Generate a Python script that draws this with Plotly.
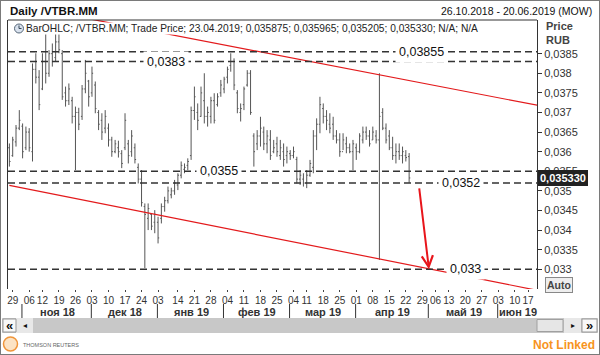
import pandas as pd
import numpy as np
import plotly.graph_objects as go

W, H = 600, 355
FONT = "Liberation Sans, Arial, sans-serif"

# ---------------- data ----------------
START, END = "2018-10-26", "2019-06-20"
HOLIDAYS = ["2018-11-05", "2018-12-31", "2019-01-01", "2019-01-02", "2019-01-07",
            "2019-03-08", "2019-05-01", "2019-05-09", "2019-06-12"]

OPEN = [0.03610, 0.03590, 0.03625, 0.03660, 0.03665, 0.03610, 0.03650, 0.03600, 0.03810, 0.03790,
        0.03760, 0.03830, 0.03800, 0.03850, 0.03840, 0.03880, 0.03850, 0.03750, 0.03730, 0.03730,
        0.03690, 0.03700, 0.03690, 0.03760, 0.03780, 0.03750, 0.03770, 0.03700, 0.03680, 0.03660,
        0.03660, 0.03630, 0.03600, 0.03610, 0.03595, 0.03610, 0.03620, 0.03600, 0.03610, 0.03560,
        0.03530, 0.03460, 0.03430, 0.03440, 0.03420, 0.03420, 0.03430, 0.03460, 0.03475, 0.03490,
        0.03500, 0.03515, 0.03540, 0.03555, 0.03565, 0.03590, 0.03705, 0.03700, 0.03690, 0.03730,
        0.03690, 0.03690, 0.03730, 0.03720, 0.03750, 0.03760, 0.03790, 0.03820, 0.03830, 0.03750,
        0.03700, 0.03720, 0.03770, 0.03800, 0.03640, 0.03620, 0.03640, 0.03650, 0.03620, 0.03630,
        0.03600, 0.03620, 0.03590, 0.03600, 0.03590, 0.03595, 0.03590, 0.03580, 0.03530, 0.03530,
        0.03520, 0.03540, 0.03560, 0.03640, 0.03670, 0.03710, 0.03690, 0.03670, 0.03670, 0.03640,
        0.03630, 0.03600, 0.03620, 0.03610, 0.03600, 0.03610, 0.03600, 0.03630, 0.03650, 0.03640,
        0.03630, 0.03640, 0.03630, 0.03700, 0.03660, 0.03640, 0.03610, 0.03590, 0.03600, 0.03590,
        0.03590, 0.035875]
HIGH = [0.03621, 0.03638, 0.03668, 0.03706, 0.03672, 0.03664, 0.03660, 0.03825, 0.03851, 0.03808,
        0.03851, 0.03902, 0.03859, 0.03876, 0.03902, 0.03900, 0.03859, 0.03766, 0.03774, 0.03740,
        0.03715, 0.03712, 0.03770, 0.03834, 0.03783, 0.03817, 0.03779, 0.03706, 0.03698, 0.03706,
        0.03672, 0.03638, 0.03630, 0.03628, 0.03604, 0.03698, 0.03630, 0.03655, 0.03621, 0.03570,
        0.03553, 0.03468, 0.03468, 0.03443, 0.03451, 0.03434, 0.03468, 0.03485, 0.03511, 0.03508,
        0.03528, 0.03545, 0.03575, 0.03570, 0.03583, 0.03715, 0.03766, 0.03723, 0.03766, 0.03800,
        0.03715, 0.03740, 0.03749, 0.03749, 0.03783, 0.03791, 0.03817, 0.03851, 0.03838, 0.03757,
        0.03723, 0.03766, 0.03808, 0.03808, 0.03647, 0.03655, 0.03689, 0.03664, 0.03655, 0.03655,
        0.03630, 0.03638, 0.03630, 0.03621, 0.03613, 0.03604, 0.03613, 0.03587, 0.03553, 0.03545,
        0.03553, 0.03579, 0.03655, 0.03685, 0.03740, 0.03723, 0.03706, 0.03698, 0.03689, 0.03655,
        0.03647, 0.03647, 0.03638, 0.03621, 0.03630, 0.03621, 0.03647, 0.03664, 0.03664, 0.03655,
        0.03664, 0.03655, 0.03800, 0.03711, 0.03672, 0.03655, 0.03638, 0.03621, 0.03621, 0.03613,
        0.03604, 0.035965]
LOW = [0.03562, 0.03587, 0.03613, 0.03655, 0.03583, 0.03604, 0.03600, 0.03575, 0.03774, 0.03706,
       0.03757, 0.03774, 0.03791, 0.03817, 0.03830, 0.03851, 0.03732, 0.03715, 0.03719, 0.03672,
       0.03553, 0.03655, 0.03681, 0.03749, 0.03715, 0.03740, 0.03698, 0.03655, 0.03630, 0.03647,
       0.03613, 0.03587, 0.03596, 0.03585, 0.03558, 0.03604, 0.03570, 0.03587, 0.03570, 0.03519,
       0.03460, 0.03303, 0.03400, 0.03400, 0.03392, 0.03366, 0.03417, 0.03447, 0.03468, 0.03481,
       0.03490, 0.03502, 0.03532, 0.03545, 0.03553, 0.03579, 0.03681, 0.03655, 0.03689, 0.03672,
       0.03664, 0.03672, 0.03672, 0.03715, 0.03740, 0.03749, 0.03774, 0.03804, 0.03757, 0.03698,
       0.03677, 0.03706, 0.03766, 0.03694, 0.03562, 0.03604, 0.03613, 0.03604, 0.03596, 0.03579,
       0.03596, 0.03587, 0.03579, 0.03562, 0.03570, 0.03579, 0.03583, 0.03519, 0.03515, 0.03511,
       0.03507, 0.03536, 0.03545, 0.03604, 0.03647, 0.03672, 0.03655, 0.03647, 0.03630, 0.03621,
       0.03587, 0.03604, 0.03596, 0.03596, 0.03553, 0.03579, 0.03596, 0.03621, 0.03630, 0.03613,
       0.03630, 0.03621, 0.03324, 0.03655, 0.03621, 0.03604, 0.03579, 0.03570, 0.03579, 0.03570,
       0.03575, 0.035205]
CLOSE = [0.03575, 0.03630, 0.03660, 0.03680, 0.03600, 0.03650, 0.03610, 0.03810, 0.03790, 0.03720,
         0.03830, 0.03800, 0.03850, 0.03830, 0.03880, 0.03860, 0.03740, 0.03730, 0.03760, 0.03690,
         0.03700, 0.03670, 0.03760, 0.03800, 0.03740, 0.03800, 0.03710, 0.03670, 0.03650, 0.03690,
         0.03630, 0.03600, 0.03620, 0.03600, 0.03570, 0.03680, 0.03590, 0.03640, 0.03580, 0.03530,
         0.03470, 0.03440, 0.03455, 0.03410, 0.03440, 0.03380, 0.03460, 0.03475, 0.03500, 0.03500,
         0.03520, 0.03540, 0.03565, 0.03560, 0.03575, 0.03705, 0.03740, 0.03680, 0.03750, 0.03690,
         0.03700, 0.03730, 0.03680, 0.03740, 0.03770, 0.03785, 0.03810, 0.03830, 0.03770, 0.03710,
         0.03710, 0.03760, 0.03800, 0.03700, 0.03600, 0.03640, 0.03660, 0.03620, 0.03640, 0.03590,
         0.03610, 0.03600, 0.03610, 0.03580, 0.03600, 0.03590, 0.03600, 0.03530, 0.03540, 0.03520,
         0.03540, 0.03570, 0.03640, 0.03670, 0.03720, 0.03690, 0.03680, 0.03660, 0.03640, 0.03630,
         0.03600, 0.03630, 0.03610, 0.03600, 0.03620, 0.03600, 0.03640, 0.03650, 0.03640, 0.03620,
         0.03650, 0.03630, 0.03690, 0.03660, 0.03630, 0.03610, 0.03590, 0.03600, 0.03590, 0.03600,
         0.03585, 0.035330]

Y_TICKS = [0.033, 0.0335, 0.034, 0.0345, 0.035, 0.0355, 0.036, 0.0365, 0.037, 0.0375, 0.038, 0.0385]
Y_TICK_TEXT = ["0,033", "0,0335", "0,034", "0,0345", "0,035", "0,0355", "0,036", "0,0365",
               "0,037", "0,0375", "0,038", "0,0385"]

X_TICK_DATES = ["2018-10-29", "2018-11-06", "2018-11-12", "2018-11-19", "2018-11-26", "2018-12-03",
                "2018-12-10", "2018-12-17", "2018-12-24", "2019-01-03", "2019-01-14", "2019-01-21",
                "2019-01-28", "2019-02-04", "2019-02-11", "2019-02-18", "2019-02-25", "2019-03-04",
                "2019-03-11", "2019-03-18", "2019-03-25", "2019-04-01", "2019-04-08", "2019-04-15",
                "2019-04-22", "2019-04-29", "2019-05-06", "2019-05-13", "2019-05-20", "2019-05-27",
                "2019-06-03", "2019-06-10", "2019-06-17"]
X_TICK_TEXT = ["29", "06", "12", "19", "26", "03", "10", "17", "24", "03", "14", "21", "28", "04",
               "11", "18", "25", "04", "11", "18", "25", "01", "08", "15", "22", "29", "06", "13",
               "20", "27", "03", "10", "17"]

MONTH_KEYS = ["2018-11", "2018-12", "2019-01", "2019-02", "2019-03", "2019-04", "2019-05", "2019-06"]
MONTH_TEXT = ["ноя 18", "дек 18", "янв 19", "фев 19", "мар 19", "апр 19", "май 19", "июн 19"]

LEVELS = [0.03855, 0.0383, 0.0355, 0.0352, 0.033]
LEVEL_TEXT = ["0,03855", "0,0383", "0,0355", "0,0352", "0,033"]

CHANNEL_DATES = ["2018-10-26", "2019-06-20"]
CHANNEL_UPPER = [0.03978, 0.03718]
CHANNEL_LOWER = [0.03514, 0.03246]

ARROW_DATES = ["2019-04-26", "2019-05-02"]
ARROW_PRICES = [0.03510, 0.03300]

LAST_PRICE = 0.035330

# ---------------- layout helpers ----------------
LEVEL_LABEL_X = [421, 166, 219, 461, 466]   # label centres in pixels


def px(x):
    return x / W


def py(y):
    return 1 - y / H


cal = pd.bdate_range(START, END)
cal = cal[~cal.isin(pd.to_datetime(HOLIDAYS))]
pos = {d: i for i, d in enumerate(cal)}


def idx(d):
    return pos[pd.Timestamp(d)]


XR = [-0.42, 159.7]
YR = [0.0324975, 0.0393585]
XD = [px(8), px(537)]
YD = [py(289), py(20)]

n = len(OPEN)
xs = list(range(n))

fig = go.Figure()
fig.add_trace(go.Ohlc(
    x=xs, open=OPEN, high=HIGH, low=LOW, close=CLOSE,
    increasing=dict(line=dict(color="#555555", width=1)),
    decreasing=dict(line=dict(color="#555555", width=1)),
    tickwidth=0.35, hoverinfo="skip", showlegend=False))

cx = [idx(d) for d in CHANNEL_DATES]
for vals in (CHANNEL_UPPER, CHANNEL_LOWER):
    fig.add_trace(go.Scatter(x=cx, y=vals, mode="lines",
                             line=dict(color="#e31a1c", width=1.2),
                             hoverinfo="skip", showlegend=False))

shapes = []
annotations = []

# level lines + labels
for lv, txt, lx in zip(LEVELS, LEVEL_TEXT, LEVEL_LABEL_X):
    shapes.append(dict(type="line", xref="paper", yref="y", x0=XD[0], x1=XD[1], y0=lv, y1=lv,
                       line=dict(color="#333333", width=1.4, dash="7px,4px")))
    annotations.append(dict(xref="paper", yref="y", x=px(lx), y=lv, text=txt, showarrow=False,
                            xanchor="center", yanchor="middle", bgcolor="white", borderpad=3,
                            font=dict(family=FONT, size=12.5, color="#111111")))

# arrow
annotations.append(dict(xref="x", yref="y", axref="x", ayref="y",
                        x=idx(ARROW_DATES[1]), y=ARROW_PRICES[1],
                        ax=idx(ARROW_DATES[0]), ay=ARROW_PRICES[0],
                        text="", showarrow=True, arrowhead=5, arrowsize=1.1, arrowwidth=2,
                        arrowcolor="#e8151b", standoff=0, startstandoff=0))

# frame top line
shapes.append(dict(type="line", xref="paper", yref="paper", x0=XD[0], x1=XD[1],
                   y0=YD[1], y1=YD[1], line=dict(color="#333333", width=1)))

# legend line (info)
last_date = cal[n - 1].strftime("%d.%m.%Y")
fmt = lambda v: f"{v:.6f}".replace(".", ",")
info = "BarOHLC; /VTBR.MM; Trade Price; {}; {}; {}; {}; {}; N/A; N/A".format(
    last_date, fmt(OPEN[-1]), fmt(HIGH[-1]), fmt(LOW[-1]), fmt(CLOSE[-1]))
annotations.append(dict(xref="paper", yref="paper", x=px(25), y=py(28.5), text=info,
                        showarrow=False, xanchor="left", yanchor="middle", bgcolor="white",
                        borderpad=0, font=dict(family=FONT, size=10.2, color="#222222")))
shapes.append(dict(type="circle", xref="paper", yref="paper", x0=px(14.5), x1=px(23.5),
                   y0=py(33), y1=py(24), fillcolor="#d9e2ee", line=dict(color="#556677", width=1)))
shapes.append(dict(type="line", xref="paper", yref="paper", x0=px(19), x1=px(19),
                   y0=py(28.5), y1=py(25.5), line=dict(color="#334455", width=1)))
shapes.append(dict(type="line", xref="paper", yref="paper", x0=px(19), x1=px(21.5),
                   y0=py(28.5), y1=py(28.5), line=dict(color="#334455", width=1)))

# header
annotations.append(dict(xref="paper", yref="paper", x=px(8), y=py(11), text="<b>Daily /VTBR.MM</b>",
                        showarrow=False, xanchor="left", yanchor="middle",
                        font=dict(family=FONT, size=11.5, color="#111111")))
d0 = pd.Timestamp(START).strftime("%d.%m.%Y")
d1 = pd.Timestamp(END).strftime("%d.%m.%Y")
annotations.append(dict(xref="paper", yref="paper", x=px(594), y=py(11),
                        text=f"{d0} - {d1} (MOW)", showarrow=False, xanchor="right",
                        yanchor="middle", font=dict(family=FONT, size=10.5, color="#111111")))

# axis title
annotations.append(dict(xref="paper", yref="paper", x=px(544), y=py(26), text="<b>Price</b>",
                        showarrow=False, xanchor="left", yanchor="middle",
                        font=dict(family=FONT, size=11, color="#444444")))
annotations.append(dict(xref="paper", yref="paper", x=px(544), y=py(40), text="<b>RUB</b>",
                        showarrow=False, xanchor="left", yanchor="middle",
                        font=dict(family=FONT, size=11, color="#444444")))

# current price badge
annotations.append(dict(xref="paper", yref="y", x=px(537.5), y=LAST_PRICE,
                        text=f"<b>{fmt(LAST_PRICE)}</b>", showarrow=False, xanchor="left",
                        yanchor="middle", bgcolor="#222222", bordercolor="#222222", borderpad=1,
                        font=dict(family=FONT, size=11, color="white")))

# Auto button
annotations.append(dict(xref="paper", yref="paper", x=px(545), y=py(284.5), text="<b>Auto</b>",
                        showarrow=False, xanchor="left", yanchor="middle", bgcolor="#eeeeee",
                        bordercolor="#888888", borderwidth=1, borderpad=1,
                        font=dict(family=FONT, size=10.5, color="#444444")))

# month row
firsts = []
for key in MONTH_KEYS:
    m = [i for i, d in enumerate(cal) if d.strftime("%Y-%m") == key]
    firsts.append(m[0])
for k, (f, txt) in enumerate(zip(firsts, MONTH_TEXT)):
    nxt = firsts[k + 1] if k + 1 < len(firsts) else XR[1]
    shapes.append(dict(type="line", xref="x", yref="paper", x0=f - 0.2, x1=f - 0.2,
                       y0=py(318), y1=py(304), line=dict(color="#333333", width=1)))
    annotations.append(dict(xref="x", yref="paper", x=(f + nxt) / 2, y=py(311.5),
                            text=f"<b>{txt}</b>", showarrow=False, xanchor="center",
                            yanchor="middle", font=dict(family=FONT, size=11, color="#333333")))

# scrollbar
shapes += [
    dict(type="rect", xref="paper", yref="paper", x0=px(2), x1=px(598), y0=py(333), y1=py(318),
         fillcolor="#c8c8c8", line=dict(width=0)),
    dict(type="rect", xref="paper", yref="paper", x0=px(16), x1=px(33), y0=py(333), y1=py(318),
         fillcolor="#e8e8e8", line=dict(width=0)),
    dict(type="rect", xref="paper", yref="paper", x0=px(3), x1=px(16), y0=py(332), y1=py(319),
         fillcolor="#f8f8f8", line=dict(color="#999999", width=1)),
    dict(type="rect", xref="paper", yref="paper", x0=px(537), x1=px(563), y0=py(331.5), y1=py(319.5),
         fillcolor="#e6e6e6", line=dict(color="#a0a0a0", width=1)),
    dict(type="rect", xref="paper", yref="paper", x0=px(564), x1=px(581), y0=py(333), y1=py(318),
         fillcolor="#e8e8e8", line=dict(width=0)),
    dict(type="rect", xref="paper", yref="paper", x0=px(582), x1=px(597), y0=py(332), y1=py(319),
         fillcolor="#f8f8f8", line=dict(color="#999999", width=1)),
]
for x, t, s in [(9.5, "<b>«</b>", 13), (24.5, "◂", 8), (572.5, "▸", 8), (589.5, "<b>»</b>", 13)]:
    annotations.append(dict(xref="paper", yref="paper", x=px(x), y=py(325.5), text=t,
                            showarrow=False, xanchor="center", yanchor="middle",
                            font=dict(family=FONT, size=s, color="#111111")))

# footer
shapes.append(dict(type="circle", xref="paper", yref="paper", x0=px(3.5), x1=px(17.5),
                   y0=py(351), y1=py(337), fillcolor="#fce3c4", line=dict(color="#f0953a", width=1.5)))
annotations.append(dict(xref="paper", yref="paper", x=px(21), y=py(344.5), text="THOMSON REUTERS",
                        showarrow=False, xanchor="left", yanchor="middle",
                        font=dict(family=FONT, size=5.5, color="#666666")))
annotations.append(dict(xref="paper", yref="paper", x=px(597), y=py(345), text="<b>Not Linked</b>",
                        showarrow=False, xanchor="right", yanchor="middle",
                        font=dict(family=FONT, size=12, color="#f7941d")))

# outer border
shapes.append(dict(type="rect", xref="paper", yref="paper", x0=0, x1=1, y0=0, y1=1,
                   line=dict(color="#7a7a7a", width=2), fillcolor="rgba(0,0,0,0)"))

fig.update_layout(
    width=W, height=H, margin=dict(l=0, r=0, t=0, b=0),
    paper_bgcolor="white", plot_bgcolor="white",
    showlegend=False, shapes=shapes, annotations=annotations,
    font=dict(family=FONT, size=11, color="#333333"),
    xaxis=dict(domain=XD, range=XR, tickvals=[idx(d) for d in X_TICK_DATES],
               ticktext=X_TICK_TEXT, tickangle=0, ticks="outside", ticklen=2,
               tickcolor="#444444", tickfont=dict(family=FONT, size=10, color="#333333"),
               showgrid=False, zeroline=False, showline=False,
               rangeslider=dict(visible=False), fixedrange=True),
    yaxis=dict(domain=YD, range=YR, side="right", tickvals=Y_TICKS, ticktext=Y_TICK_TEXT,
               ticks="outside", ticklen=4, tickcolor="#333333",
               tickfont=dict(family=FONT, size=11, color="#333333"),
               showgrid=False, zeroline=False, showline=True, mirror=True,
               linecolor="#333333", linewidth=1, fixedrange=True),
)

fig.write_html("out.html", config={"displayModeBar": False},
               post_script="document.body.style.margin='0';document.body.style.padding='0';")
